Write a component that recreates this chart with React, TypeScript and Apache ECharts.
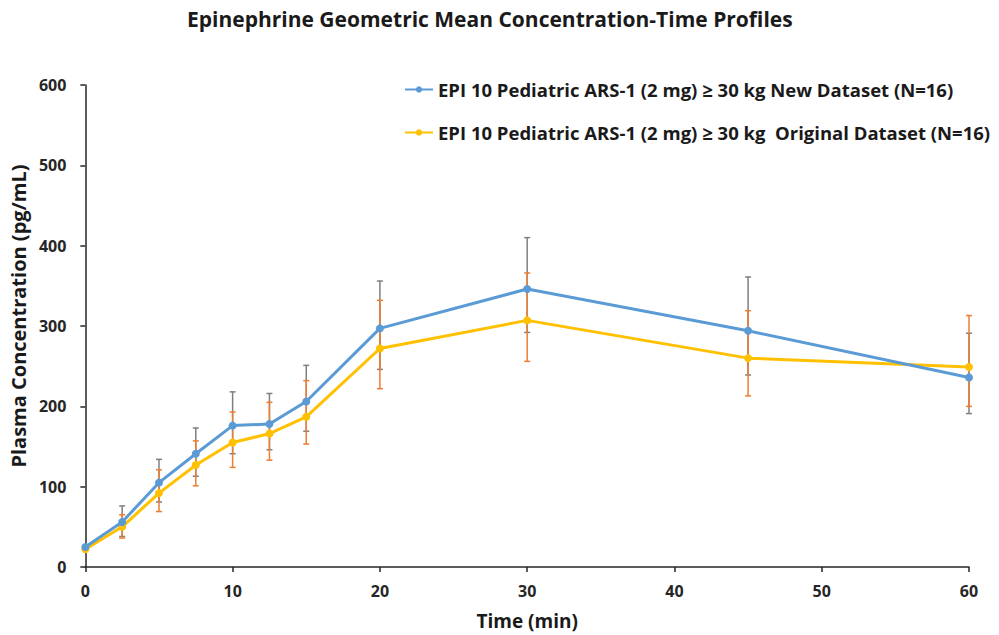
import React, { useEffect, useRef } from "react";
import * as echarts from "echarts";

const timePoints = [0, 2.5, 5, 7.5, 10, 12.5, 15, 20, 30, 45, 60];
const newMean = [25, 56, 105, 141, 176, 178, 206, 297, 346, 294, 236];
const newUpper = [null, 76, 134, 173, 218, 216, 251, 356, 410, 361, 291];
const newLower = [null, 38, 81, 113, 141, 146, 169, 246, 292, 239, 191];
const origMean = [22, 50, 92, 127, 155, 166, 187, 272, 307, 260, 249];
const origUpper = [null, 65, 121, 157, 193, 205, 232, 332, 366, 319, 313];
const origLower = [null, 36, 69, 101, 124, 133, 153, 222, 256, 213, 200];

const seriesNames = [
  "EPI 10 Pediatric ARS-1 (2 mg) \u2265 30 kg New Dataset (N=16)",
  "EPI 10 Pediatric ARS-1 (2 mg) \u2265 30 kg  Original Dataset (N=16)",
];
const titleText = "Epinephrine Geometric Mean Concentration-Time Profiles";
const xName = "Time (min)";
const yName = "Plasma Concentration (pg/mL)";

const FONT = "'Open Sans', Lato, sans-serif";

function errorSeries(lower: (number | null)[], upper: (number | null)[], color: string, z: number) {
  const data = timePoints
    .map((t, i) => (lower[i] == null || upper[i] == null ? null : [t, lower[i], upper[i]]))
    .filter((d) => d !== null);
  return {
    type: "custom",
    z,
    silent: true,
    encode: { x: 0, y: [1, 2] },
    data,
    renderItem: (params: any, api: any) => {
      const x = api.value(0);
      const lo = api.coord([x, api.value(1)]);
      const hi = api.coord([x, api.value(2)]);
      const hw = 3;
      const style = { stroke: color, lineWidth: 1.5 };
      return {
        type: "group",
        children: [
          { type: "line", shape: { x1: lo[0], y1: lo[1], x2: hi[0], y2: hi[1] }, style },
          { type: "line", shape: { x1: lo[0] - hw, y1: lo[1], x2: lo[0] + hw, y2: lo[1] }, style },
          { type: "line", shape: { x1: hi[0] - hw, y1: hi[1], x2: hi[0] + hw, y2: hi[1] }, style },
        ],
      };
    },
  };
}

export default function App() {
  const ref = useRef<HTMLDivElement>(null);
  useEffect(() => {
    if (!ref.current) return;
    const chart = echarts.init(ref.current, null, { renderer: "svg" });
    const axisLabel = { color: "#262626", fontFamily: FONT, fontWeight: "bold", fontSize: 16 };
    chart.setOption({
      animation: false,
      backgroundColor: "#ffffff",
      title: {
        text: titleText,
        left: 187,
        top: 8,
        padding: 0,
        textStyle: { fontFamily: FONT, fontWeight: "bold", fontSize: 21, color: "#1a1a1a" },
      },
      legend: {
        orient: "vertical",
        left: 404,
        top: 80,
        padding: 0,
        itemGap: 24,
        itemWidth: 28,
        itemHeight: 8,
        textStyle: { fontFamily: FONT, fontWeight: "bold", fontSize: 18.5, color: "#1a1a1a" },
        data: seriesNames,
      },
      grid: { left: 83, right: 30, top: 85, bottom: 67, containLabel: false },
      xAxis: {
        type: "value",
        min: 0,
        max: 60,
        interval: 10,
        name: xName,
        nameLocation: "middle",
        nameGap: 44,
        nameTextStyle: { fontFamily: FONT, fontWeight: "bold", fontSize: 19, color: "#1a1a1a" },
        axisLine: { show: true, lineStyle: { color: "#262626", width: 1.5 } },
        axisTick: { show: true, length: 5, lineStyle: { color: "#262626", width: 1.5 } },
        axisLabel: { ...axisLabel, margin: 16 },
        splitLine: { show: false },
      },
      yAxis: {
        type: "value",
        min: 0,
        max: 600,
        interval: 100,
        name: yName,
        nameLocation: "middle",
        nameGap: 56,
        nameTextStyle: {
          fontFamily: FONT,
          fontWeight: "bold",
          fontSize: 20,
          color: "#1a1a1a",
          padding: [0, 0, 0, 20],
        },
        axisLine: { show: true, lineStyle: { color: "#262626", width: 1.5 } },
        axisTick: { show: true, length: 5, lineStyle: { color: "#262626", width: 1.5 } },
        axisLabel: { ...axisLabel, margin: 19 },
        splitLine: { show: false },
      },
      series: [
        errorSeries(newLower, newUpper, "#7f7f7f", 1),
        errorSeries(origLower, origUpper, "#ed7d31", 2),
        {
          name: seriesNames[0],
          type: "line",
          z: 4,
          data: timePoints.map((t, i) => [t, newMean[i]]),
          symbol: "circle",
          symbolSize: 8,
          itemStyle: { color: "#5b9bd5" },
          lineStyle: { color: "#5b9bd5", width: 3 },
        },
        {
          name: seriesNames[1],
          type: "line",
          z: 3,
          data: timePoints.map((t, i) => [t, origMean[i]]),
          symbol: "circle",
          symbolSize: 8,
          itemStyle: { color: "#ffc000" },
          lineStyle: { color: "#ffc000", width: 3 },
        },
      ],
    });
    return () => chart.dispose();
  }, []);
  return <div ref={ref} style={{ width: 999, height: 635, position: "absolute", left: 0, top: 0 }} />;
}
